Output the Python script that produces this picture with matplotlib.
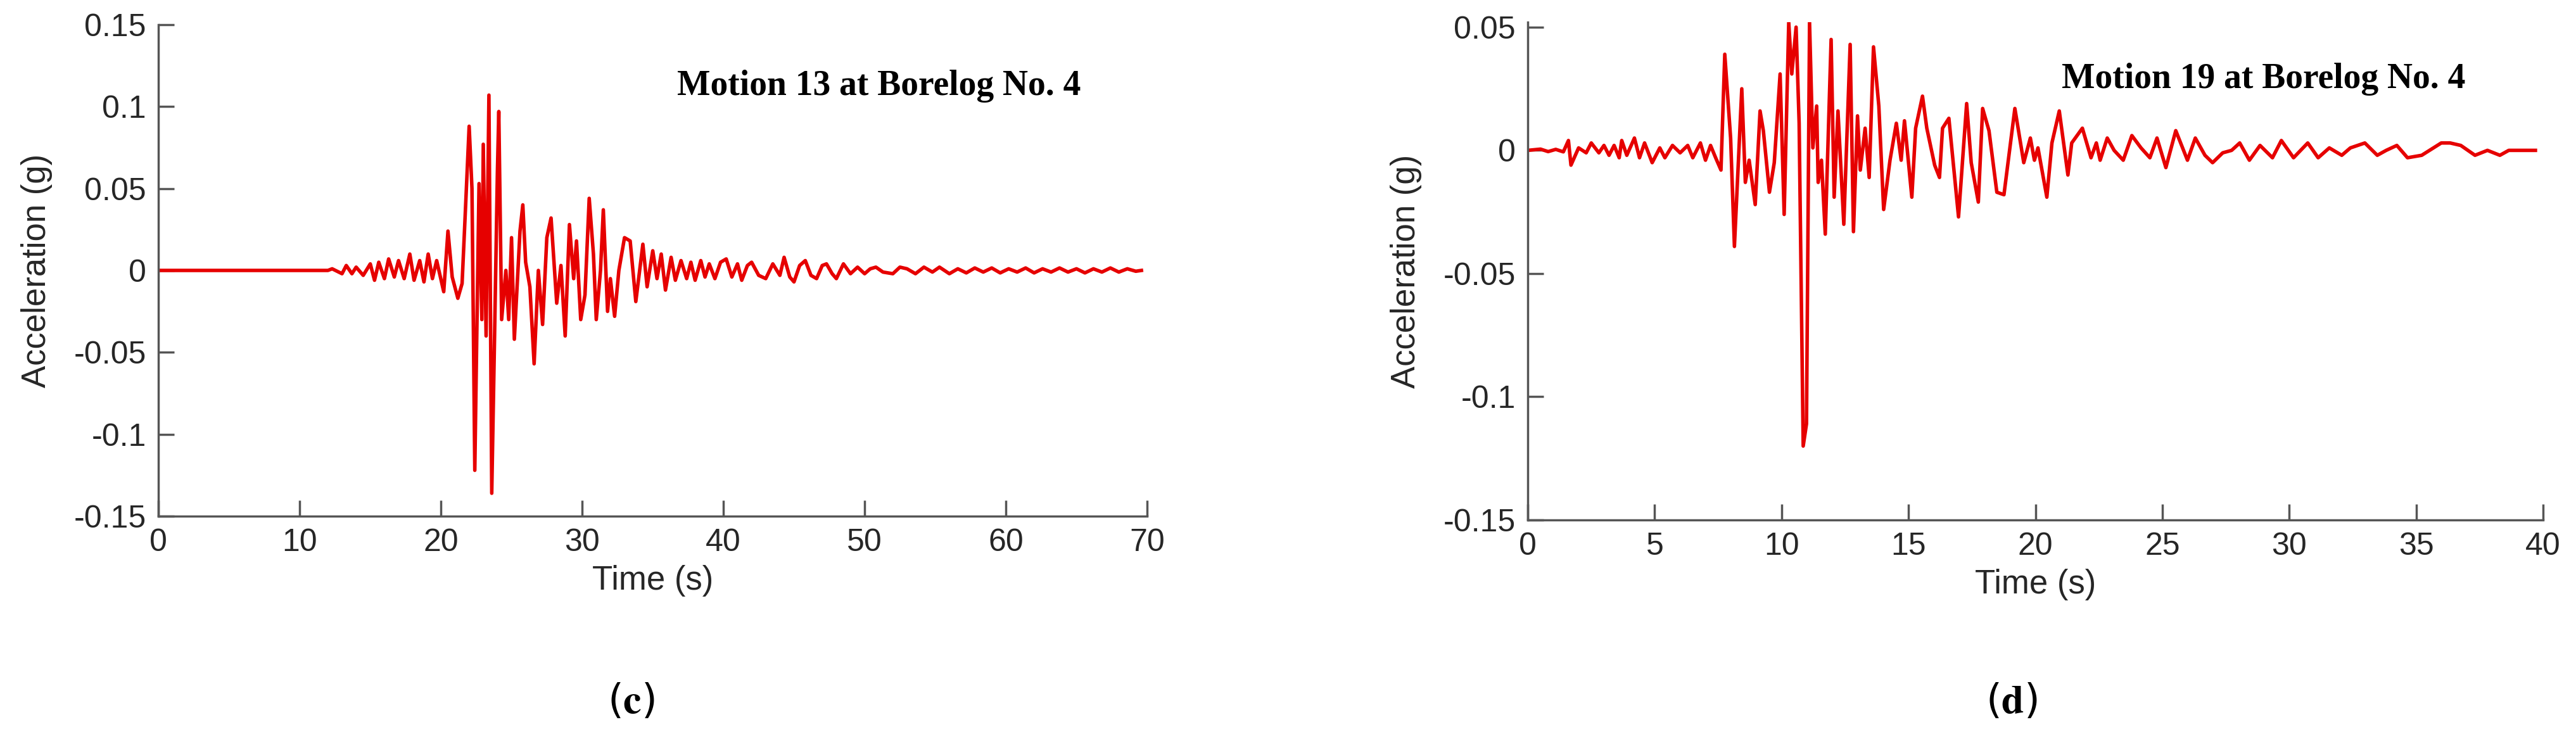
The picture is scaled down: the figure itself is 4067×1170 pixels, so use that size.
import matplotlib.pyplot as plt
import numpy as np

plt.rcParams["mathtext.fontset"] = "stix"

# Motion 13 at Borelog No. 4 (time s, acceleration g)
t_c = [0, 12.0, 12.3, 13.0, 13.3, 13.7, 14.0, 14.5, 15.0, 15.3, 15.6, 16.0, 16.3, 16.7, 17.0, 17.4,
       17.8, 18.1, 18.5, 18.8, 19.1, 19.4, 19.7, 20.2, 20.5, 20.8, 21.2, 21.5, 21.7, 22.0, 22.2,
       22.4, 22.7, 22.9, 23.0, 23.2, 23.4, 23.6, 23.8, 24.0, 24.1, 24.3, 24.6, 24.8, 25.0, 25.2,
       25.6, 25.8, 26.0, 26.3, 26.6, 26.9, 27.2, 27.5, 27.8, 28.2, 28.5, 28.8, 29.1, 29.4, 29.6,
       29.9, 30.2, 30.5, 30.8, 31.0, 31.3, 31.5, 31.8, 32.0, 32.3, 32.6, 33.0, 33.4, 33.8, 34.3,
       34.6, 35.0, 35.3, 35.6, 35.9, 36.3, 36.6, 37.0, 37.4, 37.7, 38.0, 38.4, 38.7, 39.0, 39.4,
       39.8, 40.2, 40.6, 41.0, 41.3, 41.7, 42.0, 42.5, 43.0, 43.5, 44.0, 44.3, 44.7, 45.0, 45.4,
       45.8, 46.2, 46.6, 47.0, 47.3, 47.7, 48.0, 48.5, 49.0, 49.5, 50.0, 50.4, 50.8, 51.3, 52.0,
       52.5, 53.0, 53.6, 54.2, 54.8, 55.3, 56.0, 56.6, 57.2, 57.8, 58.4, 59.0, 59.6, 60.2, 60.8,
       61.4, 62.0, 62.6, 63.2, 63.8, 64.4, 65.0, 65.6, 66.2, 66.8, 67.4, 68.0, 68.6, 69.2, 69.6]
a_c = [0, 0, 0.001, -0.002, 0.003, -0.002, 0.002, -0.003, 0.004, -0.006, 0.005, -0.005, 0.007, -0.004, 0.006, -0.005,
       0.010, -0.006, 0.006, -0.007, 0.010, -0.005, 0.006, -0.013, 0.024, -0.004, -0.017, -0.008, 0.030, 0.088, 0.050,
       -0.122, 0.053, -0.030, 0.077, -0.040, 0.107, -0.136, -0.040, 0.060, 0.097, -0.030, 0.000, -0.030, 0.020, -0.042,
       0.024, 0.040, 0.005, -0.010, -0.057, 0.000, -0.033, 0.020, 0.032, -0.020, 0.003, -0.040, 0.028, -0.005, 0.018,
       -0.030, -0.015, 0.044, 0.010, -0.030, 0.000, 0.037, -0.025, -0.005, -0.028, 0.000, 0.020, 0.018, -0.019, 0.016,
       -0.010, 0.012, -0.005, 0.010, -0.012, 0.008, -0.006, 0.006, -0.005, 0.005, -0.006, 0.006, -0.004, 0.004, -0.005,
       0.005, 0.007, -0.004, 0.004, -0.006, 0.003, 0.005, -0.003, -0.005, 0.004, -0.003, 0.008, -0.004, -0.007, 0.003,
       0.006, -0.003, -0.005, 0.003, 0.004, -0.002, -0.005, 0.004, -0.002, 0.002, -0.002, 0.001, 0.002, -0.001, -0.002,
       0.002, 0.001, -0.002, 0.002, -0.001, 0.002, -0.002, 0.001, -0.0015, 0.0015, -0.001, 0.0015, -0.0015, 0.001, -0.001,
       0.0015, -0.0015, 0.001, -0.001, 0.0015, -0.001, 0.001, -0.0015, 0.001, -0.001, 0.0015, -0.001, 0.001, -0.0005, 0]

# Motion 19 at Borelog No. 4
t_d = [0, 0.5, 0.8, 1.1, 1.4, 1.6, 1.7, 2.0, 2.3, 2.5, 2.8, 3.0, 3.2, 3.4, 3.6, 3.7, 3.9, 4.2, 4.4,
       4.6, 4.9, 5.2, 5.4, 5.7, 6.0, 6.3, 6.5, 6.8, 7.0, 7.2, 7.4, 7.61, 7.76, 7.99, 8.14, 8.43, 8.57,
       8.72, 8.96, 9.15, 9.28, 9.52, 9.71, 9.94, 10.1, 10.28, 10.4, 10.57, 10.69, 10.85, 10.98, 11.1,
       11.23, 11.38, 11.44, 11.57, 11.72, 11.95, 12.07, 12.22, 12.45, 12.7, 12.83, 12.99, 13.1, 13.29,
       13.45, 13.62, 13.83, 14.02, 14.27, 14.52, 14.71, 14.84, 15.13, 15.28, 15.55, 15.72, 16.03, 16.22,
       16.34, 16.59, 16.97, 17.29, 17.47, 17.75, 17.92, 18.17, 18.48, 18.76, 19.19, 19.54, 19.8, 19.96,
       20.1, 20.45, 20.65, 20.94, 21.28, 21.43, 21.85, 22.19, 22.4, 22.55, 22.83, 23.1, 23.46, 23.8,
       24.16, 24.51, 24.79, 25.14, 25.53, 25.99, 26.3, 26.68, 26.98, 27.38, 27.73, 28.05, 28.43, 28.85,
       29.34, 29.69, 30.17, 30.73, 31.14, 31.58, 32.07, 32.41, 32.98, 33.47, 33.82, 34.24, 34.66, 35.22,
       35.99, 36.34, 36.76, 37.32, 37.81, 38.3, 38.65, 39.0, 39.7]
a_d = [0, 0.0005, -0.0005, 0.0004, -0.0006, 0.004, -0.006, 0.001, -0.001, 0.003, -0.001, 0.002, -0.002, 0.002, -0.003, 0.004, -0.002, 0.005, -0.003,
       0.003, -0.005, 0.001, -0.003, 0.002, -0.001, 0.002, -0.003, 0.003, -0.004, 0.002, -0.003, -0.008, 0.039, 0.005, -0.039, 0.025, -0.013,
       -0.004, -0.022, 0.016, 0.008, -0.017, -0.005, 0.031, -0.026, 0.052, 0.031, 0.050, 0.011, -0.120, -0.111, 0.052,
       0.001, 0.018, -0.013, -0.004, -0.034, 0.045, -0.019, 0.016, -0.030, 0.043, -0.033, 0.014, -0.008, 0.009,
       -0.011, 0.042, 0.018, -0.024, -0.004, 0.011, -0.004, 0.012, -0.019, 0.009, 0.022, 0.009, -0.006, -0.011,
       0.009, 0.013, -0.027, 0.019, -0.005, -0.021, 0.017, 0.008, -0.017, -0.018, 0.017, -0.005, 0.005, -0.004,
       0.001, -0.019, 0.003, 0.016, -0.010, 0.003, 0.009, -0.003, 0.003, -0.004, 0.005, 0.000, -0.004, 0.006,
       0.001, -0.003, 0.005, -0.007, 0.008, -0.004, 0.005, -0.002, -0.005, -0.001, 0.000, 0.003, -0.004, 0.002,
       -0.003, 0.004, -0.003, 0.003, -0.003, 0.001, -0.002, 0.001, 0.003, -0.002, 0.000, 0.002, -0.003, -0.002,
       0.003, 0.003, 0.002, -0.002, 0.000, -0.002, 0.000, 0.000, 0.000]

panels = [
    dict(t=t_c, a=a_c, pos=[0.0615, 0.3034, 0.3838, 0.6633], xlim=(0, 70), xt=np.arange(0, 71, 10),
         ylim=(-0.15, 0.15), yt=[-0.15, -0.1, -0.05, 0, 0.05, 0.1, 0.15],
         yl=["-0.15", "-0.1", "-0.05", "0", "0.05", "0.1", "0.15"],
         title="Motion 13 at Borelog No. 4", tx=(1069 - 250) / 1561, ty=0.875, lab="c", lx=0.245),
    dict(t=t_d, a=a_d, pos=[0.5931, 0.2983, 0.3941, 0.6717], xlim=(0, 40), xt=np.arange(0, 41, 5),
         ylim=(-0.15, 0.052), yt=[-0.15, -0.1, -0.05, 0, 0.05],
         yl=["-0.15", "-0.1", "-0.05", "0", "0.05"],
         title="Motion 19 at Borelog No. 4", tx=(3255 - 2412) / 1603, ty=0.885, lab="d", lx=0.781),
]

fig = plt.figure(figsize=(40.67, 11.7), dpi=100)
for p in panels:
    ax = fig.add_axes(p["pos"])
    ax.plot(p["t"], p["a"], color="#e60000", lw=4)
    ax.set_xlim(p["xlim"])
    ax.set_ylim(p["ylim"])
    ax.set_xticks(p["xt"])
    ax.set_yticks(p["yt"])
    ax.set_yticklabels(p["yl"])
    for s in ["top", "right"]:
        ax.spines[s].set_visible(False)
    for s in ["left", "bottom"]:
        ax.spines[s].set_color("#555555")
        ax.spines[s].set_linewidth(2.5)
    ax.tick_params(direction="in", length=18, width=2.5, color="#555555",
                   labelsize=36, labelcolor="#262626", pad=14)
    for lbl in ax.get_xticklabels() + ax.get_yticklabels():
        lbl.set_family("Liberation Sans")
    ax.set_xlabel("Time (s)", fontsize=38, color="#262626", family="Liberation Sans", labelpad=8)
    ax.set_ylabel("Acceleration (g)", fontsize=38, color="#262626", family="Liberation Sans", labelpad=24)
    ax.text(p["tx"], p["ty"], p["title"], transform=ax.transAxes, fontsize=40, fontweight="bold",
            family="Liberation Serif", va="center", ha="left")
    fig.text(p["lx"], 0.053, "($\\mathbf{" + p["lab"] + "}$)", fontsize=46, ha="center", va="center")

fig.savefig("out.png", dpi=100, facecolor="white")
